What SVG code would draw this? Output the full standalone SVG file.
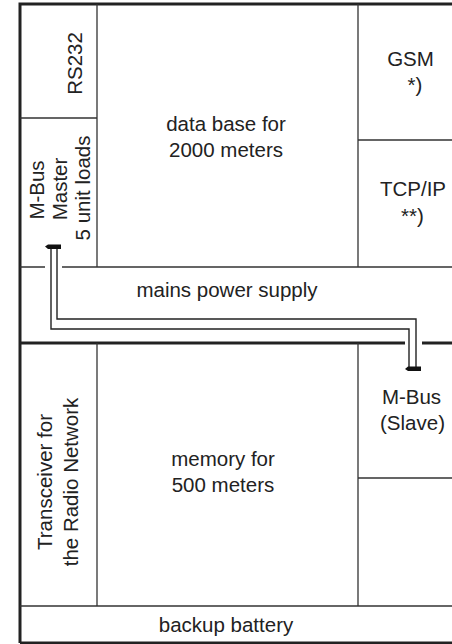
<svg xmlns="http://www.w3.org/2000/svg" width="452" height="644" viewBox="0 0 452 644">
<style>
.t{font-family:"Liberation Sans",Arial,sans-serif;font-size:20.5px;fill:#222;text-anchor:middle}
.thick{stroke:#222;stroke-width:3;fill:none}
.thin{stroke:#333;stroke-width:1.3;fill:none}
.wire{stroke:#222;stroke-width:1.4;fill:none}
.plug{fill:#111}
</style>
<rect width="452" height="644" fill="#fff"/>
<g id="frame">
<path class="thick" d="M20,643 V4 H452"/>
<path class="thick" d="M20,643 H452"/>
<path class="thick" d="M20,343 H405 M422,343 H452"/>
<path class="thin" d="M20,267 H45 M62,267 H452"/>
<path class="thin" d="M20,606 H452"/>
</g>
<g id="rs232">
<path class="thin" d="M97,4 V267 M20,118 H97"/>
<text class="t" transform="translate(82,63.5) rotate(-90)">RS232</text>
</g>
<g id="mbus-master">
<text class="t" transform="translate(43.5,190) rotate(-90)">M-Bus</text>
<text class="t" transform="translate(66.5,189) rotate(-90)">Master</text>
<text class="t" transform="translate(89.5,188) rotate(-90)">5 unit loads</text>
</g>
<g id="database">
<text class="t" x="226" y="131">data base for</text>
<text class="t" x="226" y="157">2000 meters</text>
</g>
<g id="gsm">
<path class="thin" d="M358,4 V267 M358,140 H452"/>
<text class="t" x="410.5" y="66">GSM</text>
<text class="t" x="415" y="92">*)</text>
</g>
<g id="tcpip">
<text class="t" x="413" y="196">TCP/IP</text>
<text class="t" x="412.5" y="223">**)</text>
</g>
<g id="mains">
<text class="t" x="227" y="297">mains power supply</text>
</g>
<g id="transceiver">
<path class="thin" d="M97,343 V606"/>
<text class="t" transform="translate(51.5,482) rotate(-90)">Transceiver for</text>
<text class="t" transform="translate(77.5,482) rotate(-90)">the Radio Network</text>
</g>
<g id="memory">
<text class="t" x="223" y="466">memory for</text>
<text class="t" x="223" y="492">500 meters</text>
</g>
<g id="mbus-slave">
<path class="thin" d="M358,343 V606 M358,478 H452"/>
<text class="t" x="411.5" y="404">M-Bus</text>
<text class="t" x="412.5" y="430">(Slave)</text>
</g>
<g id="backup">
<text class="t" x="226" y="632">backup battery</text>
</g>
<g id="connectors">
<path class="wire" d="M51,248 V329 H409 V368"/>
<path class="wire" d="M57,248 V319 H416 V368"/>
<polygon class="plug" points="45,246.5 48,244.5 61,244.5 61,249 48,249"/>
<polygon class="plug" points="405,369 408,366.5 421,366.5 421,371 408,371"/>
</g>
</svg>
